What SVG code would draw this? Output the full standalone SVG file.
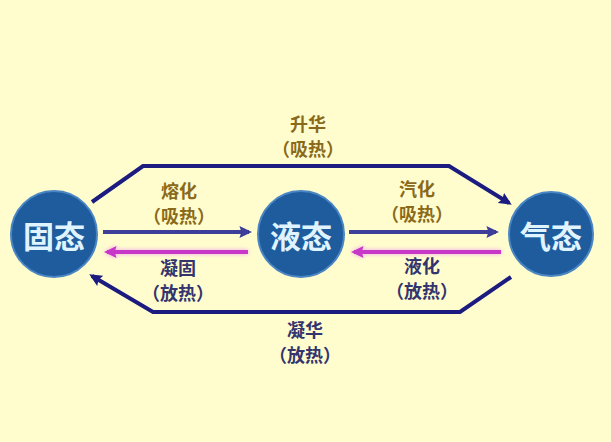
<svg xmlns="http://www.w3.org/2000/svg" width="611" height="442" viewBox="0 0 611 442">
<style>
.node circle{fill:#1f5c9e;stroke:#4a86c4;stroke-width:2}
.node text{font-family:"Noto Sans CJK SC",sans-serif;font-size:31px;font-weight:bold;fill:#dff4ff;text-anchor:middle;dominant-baseline:central}
.lab{font-family:"Noto Sans CJK SC",sans-serif;font-size:18px;font-weight:bold;text-anchor:middle;dominant-baseline:central}
.gold{fill:#8a6a1a}
.navy{fill:#34346e}
.big{fill:none;stroke:#1c1c80;stroke-width:4}
.mid{fill:none;stroke:#3d3d9a;stroke-width:4}
.pink{fill:none;stroke:#c838c8;stroke-width:4}
</style>
<defs>
<marker id="ab" markerWidth="3.2" markerHeight="3" refX="2.4" refY="1.5" orient="auto" markerUnits="strokeWidth"><path d="M0,0 L3.2,1.5 L0,3 L0.5,1.5 Z" fill="#1c1c80"/></marker>
<marker id="am" markerWidth="3.2" markerHeight="3" refX="2.4" refY="1.5" orient="auto" markerUnits="strokeWidth"><path d="M0,0 L3.2,1.5 L0,3 L0.5,1.5 Z" fill="#3d3d9a"/></marker>
<marker id="ap" markerWidth="3.2" markerHeight="3" refX="2.4" refY="1.5" orient="auto" markerUnits="strokeWidth"><path d="M0,0 L3.2,1.5 L0,3 L0.5,1.5 Z" fill="#c838c8"/></marker>
</defs>
<rect width="611" height="442" fill="#fffdce"/>
<g id="connectors">
<path class="big" d="M92,202 L143,166 L449,166 L509,203" marker-end="url(#ab)"/>
<path class="big" d="M511,277 L460,312 L153,312 L92,276" marker-end="url(#ab)"/>
<path class="mid" d="M103,232 L249,232" marker-end="url(#am)"/>
<path class="pink" d="M248,252 L107,252" marker-end="url(#ap)" style="filter:drop-shadow(0 0 2px #f0a0f0)"/>
<path class="mid" d="M349,232 L496,232" marker-end="url(#am)"/>
<path class="pink" d="M501,252 L354,252" marker-end="url(#ap)" style="filter:drop-shadow(0 0 2px #f0a0f0)"/>
<text class="lab gold" x="308" y="123">升华</text>
<text class="lab gold" x="308" y="148">（吸热）</text>
<text class="lab gold" x="179" y="190">熔化</text>
<text class="lab gold" x="179" y="215">（吸热）</text>
<text class="lab navy" x="178" y="267">凝固</text>
<text class="lab navy" x="178" y="292">（放热）</text>
<text class="lab gold" x="417" y="188">汽化</text>
<text class="lab gold" x="417" y="213">（吸热）</text>
<text class="lab navy" x="422" y="265">液化</text>
<text class="lab navy" x="422" y="290">（放热）</text>
<text class="lab navy" x="305" y="329">凝华</text>
<text class="lab navy" x="305" y="354">（放热）</text>
</g>
<g id="solid" class="node"><circle cx="54" cy="234" r="43"/><text x="54" y="234">固态</text></g>
<g id="liquid" class="node"><circle cx="301" cy="234" r="43"/><text x="301" y="234">液态</text></g>
<g id="gas" class="node"><circle cx="551" cy="234" r="42"/><text x="551" y="234">气态</text></g>
</svg>
